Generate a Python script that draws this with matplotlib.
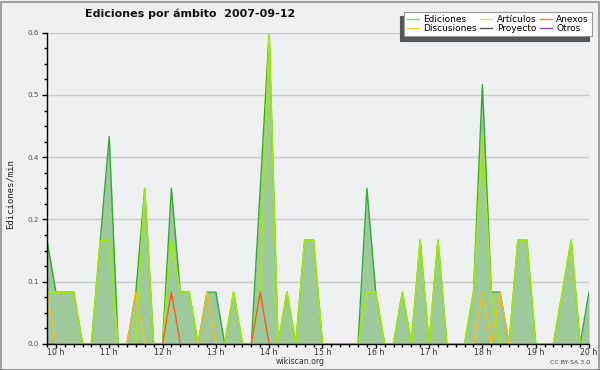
import matplotlib
matplotlib.use('Agg')
import matplotlib.pyplot as plt
import numpy as np
from matplotlib.lines import Line2D
from matplotlib.patches import Rectangle
from matplotlib.ticker import MultipleLocator, FormatStrFormatter

# 10 minute buckets from 09:50 to 20:00, edits per minute
start_hour = 9 + 50 / 60.0
step_min = 10

ediciones = [0.2, 0.1, 0.1, 0.1, 0, 0, 0.2, 0.4, 0, 0,
             0.1, 0.3, 0, 0, 0.3, 0.1, 0.1, 0, 0.1, 0.1,
             0, 0.1, 0, 0, 0.3, 0.6, 0, 0.1, 0, 0.2,
             0.2, 0, 0, 0, 0, 0, 0.3, 0.1, 0, 0,
             0.1, 0, 0.2, 0, 0.2, 0, 0, 0, 0.1, 0.5,
             0.1, 0.1, 0, 0.2, 0.2, 0, 0, 0, 0.1, 0.2,
             0, 0.1]
articulos = [0.1, 0.1, 0.1, 0.1, 0, 0, 0.2, 0.2, 0, 0,
             0, 0.3, 0, 0, 0.2, 0.1, 0.1, 0, 0, 0,
             0, 0.1, 0, 0, 0.1, 0.6, 0, 0.1, 0, 0.2,
             0.2, 0, 0, 0, 0, 0, 0.1, 0.1, 0, 0,
             0.1, 0, 0.2, 0, 0.2, 0, 0, 0, 0.1, 0.4,
             0.1, 0, 0, 0.2, 0.2, 0, 0, 0, 0.1, 0.2,
             0, 0]
anexos = [0] * 62
anexos[14] = 0.1
anexos[24] = 0.1
discusiones = [0] * 62
for i in [0, 10, 18, 49, 51]:
    discusiones[i] = 0.1
proyecto = [0] * 62
otros = [0] * 62

hour_ticks = list(range(10, 21))
hour_labels = ["%d h" % h for h in hour_ticks]

x = start_hour + np.arange(len(ediciones)) * step_min / 60.0

fig = plt.figure(figsize=(6, 3.7), dpi=100, facecolor='#f0f0f0')
ax = fig.add_axes([47/600, 26/370, 542/600, 311.3/370])
ax.set_facecolor('#eef0f1')

ax.fill_between(x, ediciones, 0, color='#9dca9d', lw=0, zorder=1.5)
ax.plot(x, ediciones, color='#33aa33', lw=1.0, zorder=2)
ax.plot(x, articulos, color='#a2ec00', lw=1.2, zorder=2)
ax.plot(x, anexos, color='#ff5a1a', lw=1.0, zorder=2)
ax.plot(x, discusiones, color='#ffbb11', lw=1.0, zorder=2)
ax.plot(x, proyecto, color='#555555', lw=1.0, zorder=1.9)
ax.plot(x, otros, color='#9944ee', lw=1.0, zorder=1.9)

ax.set_xlim(x[0], x[-1])
ax.set_ylim(0, 0.6)

for s in ['top', 'right']:
    ax.spines[s].set_visible(False)
for s in ['left', 'bottom']:
    ax.spines[s].set_color('black')
    ax.spines[s].set_linewidth(1.0)
    ax.spines[s].set_zorder(3)

ax.set_xticks(hour_ticks)
ax.set_xticklabels(hour_labels)
ax.xaxis.set_minor_locator(MultipleLocator(1/6.0))
ax.yaxis.set_major_locator(MultipleLocator(0.12))
ax.yaxis.set_major_formatter(FormatStrFormatter('%.1f'))
ax.yaxis.set_minor_locator(MultipleLocator(0.03))

ax.tick_params(axis='x', which='major', direction='out', length=2.6, width=1,
               pad=0.5, labelsize=5.6, labelcolor='#333333')
ax.tick_params(axis='x', which='minor', direction='out', length=2.2, width=1)
ax.tick_params(axis='y', which='major', direction='out', length=3.5, width=1,
               pad=2, labelsize=5.2, labelcolor='#555555')
ax.tick_params(axis='y', which='minor', direction='out', length=2.5, width=1)

ax.yaxis.grid(True, which='major', color='#cccccc', lw=1.0, zorder=0)
ax.set_axisbelow(True)

fig.text(85/600, 1 - 14/370, u"Ediciones por \u00e1mbito  2007-09-12",
         ha='left', va='center', fontsize=8, fontweight='bold', color='#111111')
fig.text(10/600, 1 - 194/370, 'Ediciones/min', rotation=90, ha='center', va='center',
         family='DejaVu Sans Mono', fontsize=6.5, color='#222222')
fig.text(300/600, 1 - 361.5/370, 'wikiscan.org', ha='center', va='center',
         fontsize=5.6, color='#333333')
fig.text(590/600, 1 - 362.5/370, 'CC BY-SA 3.0', ha='right', va='center',
         fontsize=4.5, color='#444444')

names = ['Ediciones', 'Discusiones', u'Art\u00edculos', 'Proyecto', 'Anexos', 'Otros']
leg_colors = ['#88cc88', '#ffcc44', '#ccee55', '#555555', '#ff7744', '#9944ee']
handles = [Line2D([], [], color=c, lw=1.0) for c in leg_colors]
leg = fig.legend(handles, names, ncol=3, loc='upper right',
                 bbox_to_anchor=(592/600, 1 - 11.7/370), bbox_transform=fig.transFigure,
                 fontsize=6.5, frameon=True, fancybox=False, framealpha=1,
                 handlelength=1.3, handletextpad=0.5, columnspacing=0.4,
                 labelspacing=0.05, borderpad=0.35, borderaxespad=0,
                 shadow={'color': '#555555', 'alpha': 1, 'ox': -2.5, 'oy': -3})
leg.get_frame().set_edgecolor('#999999')
leg.get_frame().set_facecolor('white')
leg.get_frame().set_linewidth(0.8)

fig.patches.append(Rectangle((0.5/600, 0.5/370), 598.5/600, 368/370, transform=fig.transFigure,
                             fill=False, edgecolor='#a0a0a0', lw=1.5))

fig.savefig('out.png', dpi=100, facecolor=fig.get_facecolor())
